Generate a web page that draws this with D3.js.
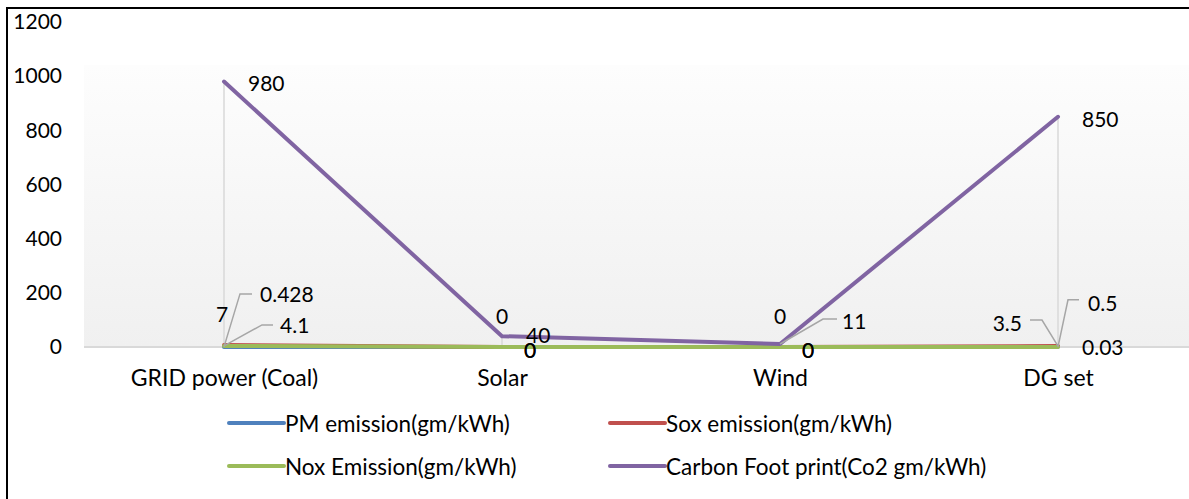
<!DOCTYPE html>
<html>
<head>
<meta charset="utf-8">
<script src="https://cdn.jsdelivr.net/npm/d3@7"></script>
<style>
  html, body { margin: 0; padding: 0; background: #fff; }
  svg { display: block; font-family: Lato, "Open Sans", sans-serif; }
</style>
</head>
<body>
<svg id="chart" width="1189" height="499"></svg>
<script>
// Emission factors by power source
const categories = ["GRID power (Coal)", "Solar", "Wind", "DG set"];
const pmEmission  = [0.428, 0, 0, 0.5];
const soxEmission = [7, 0, 0, 3.5];
const noxEmission = [4.1, 0, 0, 0.03];
const co2Footprint = [980, 40, 11, 850];
const yTicks = [0, 200, 400, 600, 800, 1000, 1200];

const seriesNames = [
  "PM emission(gm/kWh)",
  "Sox emission(gm/kWh)",
  "Nox Emission(gm/kWh)",
  "Carbon Foot print(Co2 gm/kWh)"
];
const seriesValues = [pmEmission, soxEmission, noxEmission, co2Footprint];
const seriesColors = ["#4f81bd", "#c0504d", "#9bbb59", "#8064a2"];

const svg = d3.select("#chart");

// Outer frame (top and left edges)
svg.append("line").attr("x1", 6).attr("x2", 1189).attr("y1", 8).attr("y2", 8)
  .attr("stroke", "#000").attr("stroke-width", 2);
svg.append("line").attr("x1", 7).attr("x2", 7).attr("y1", 7).attr("y2", 499)
  .attr("stroke", "#000").attr("stroke-width", 2);

const x = d3.scalePoint().domain(categories).range([85, 1197]).padding(0.5);
const y = d3.scaleLinear().domain([0, 1200]).range([347, 22]);

// Plot area background gradient
const defs = svg.append("defs");
const grad = defs.append("linearGradient").attr("id", "plotBg")
  .attr("x1", 0).attr("y1", 0).attr("x2", 0).attr("y2", 1);
grad.append("stop").attr("offset", "0%").attr("stop-color", "#fdfdfd");
grad.append("stop").attr("offset", "100%").attr("stop-color", "#f0f0f0");
svg.append("rect").attr("x", 84).attr("y", 65).attr("width", 1189 - 84).attr("height", 347 - 65)
  .attr("fill", "url(#plotBg)");

// Y axis labels
const yAxis = d3.axisLeft(y).tickValues(yTicks).tickFormat(d3.format("d"))
  .tickSize(0).tickPadding(0);
const yG = svg.append("g").attr("transform", "translate(62,0)").call(yAxis);
yG.select(".domain").remove();
yG.selectAll("text").attr("font-size", 21).attr("fill", "#000")
  .attr("font-family", "Lato, sans-serif");

// X axis
const xAxis = d3.axisBottom(x).tickSize(0).tickPadding(0);
const xG = svg.append("g").attr("transform", `translate(0,${y(0)})`).call(xAxis);
xG.select(".domain").remove();
xG.selectAll("text").attr("font-size", 23).attr("fill", "#000")
  .attr("dy", null).attr("y", 39).attr("font-family", "Lato, sans-serif");
svg.append("line").attr("x1", 84).attr("x2", 1189).attr("y1", y(0)).attr("y2", y(0))
  .attr("stroke", "#d9d9d9").attr("stroke-width", 2);

// Drop lines from the highest point of each category
categories.forEach((c, i) => {
  const top = d3.max(seriesValues, s => s[i]);
  svg.append("line").attr("x1", x(c)).attr("x2", x(c)).attr("y1", y(top)).attr("y2", y(0))
    .attr("stroke", "#d9d9d9").attr("stroke-width", 1.5);
});

// Series lines
const line = d3.line().x((d, i) => x(categories[i])).y(d => y(d));
seriesValues.forEach((vals, k) => {
  svg.append("path").datum(vals).attr("d", line)
    .attr("fill", "none").attr("stroke", seriesColors[k]).attr("stroke-width", 4)
    .attr("stroke-linejoin", "round").attr("stroke-linecap", "round");
});

// Data label placement per series and category: text offset, anchor, optional leader
const labelPlacement = [
  [ // PM
    { dx: 36, dy: -53, anchor: "start", leader: [[0, 0], [16, -53], [28, -53]] },
    { dx: 28, dy: 2, anchor: "middle" },
    { dx: 28, dy: 2, anchor: "middle" },
    { dx: 30, dy: -44, anchor: "start", leader: [[0, 0], [10, -47], [21, -47]] }
  ],
  [ // Sox
    { dx: -2, dy: -32, anchor: "middle" },
    { dx: 0, dy: -32, anchor: "middle" },
    { dx: 0, dy: -32, anchor: "middle" },
    { dx: -36, dy: -24, anchor: "end", leader: [[0, 0], [-16, -26], [-28, -26]] }
  ],
  [ // Nox
    { dx: 56, dy: -21, anchor: "start", leader: [[0, 0], [38, -21], [49, -21]] },
    { dx: 28, dy: 2, anchor: "middle" },
    { dx: 28, dy: 2, anchor: "middle" },
    { dx: 24, dy: 0, anchor: "start" }
  ],
  [ // Carbon
    { dx: 24, dy: 1, anchor: "start" },
    { dx: 24, dy: -2, anchor: "start" },
    { dx: 62, dy: -24, anchor: "start", leader: [[0, 0], [43, -25], [57, -25]] },
    { dx: 24, dy: 2, anchor: "start" }
  ]
];

const labelG = svg.append("g");
seriesValues.forEach((vals, k) => {
  vals.forEach((v, i) => {
    const px = x(categories[i]), py = y(v);
    const p = labelPlacement[k][i];
    if (p.leader) {
      labelG.append("path")
        .attr("d", d3.line()(p.leader.map(([a, b]) => [px + a, py + b])))
        .attr("fill", "none").attr("stroke", "#a6a6a6").attr("stroke-width", 1.5);
    }
    labelG.append("text")
      .attr("x", px + p.dx).attr("y", py + p.dy)
      .attr("text-anchor", p.anchor).attr("dominant-baseline", "central")
      .attr("font-size", 21).attr("fill", "#000")
      .text(v);
  });
});

// Legend
const legendPos = [[229, 423], [610, 423], [229, 466], [610, 466]];
seriesNames.forEach((name, k) => {
  const [lx, ly] = legendPos[k];
  svg.append("line").attr("x1", lx).attr("x2", lx + 55).attr("y1", ly).attr("y2", ly)
    .attr("stroke", seriesColors[k]).attr("stroke-width", 4).attr("stroke-linecap", "round");
  svg.append("text").attr("x", lx + 56).attr("y", ly)
    .attr("dominant-baseline", "central").attr("font-size", 22.5).attr("fill", "#000")
    .text(name);
});
</script>
</body>
</html>
